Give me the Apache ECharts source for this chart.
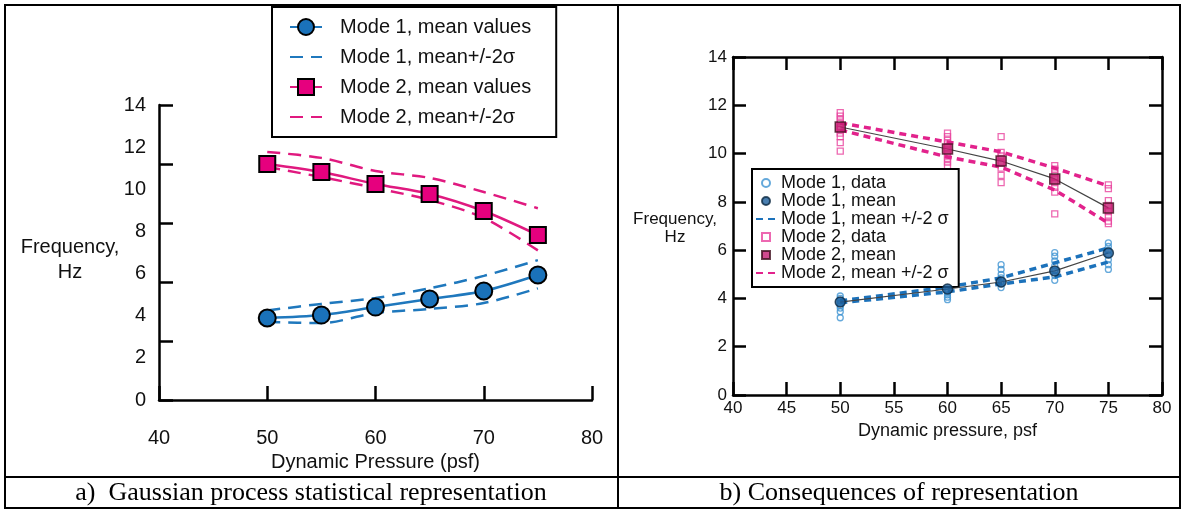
<!DOCTYPE html>
<html>
<head>
<meta charset="utf-8">
<script src="https://cdn.jsdelivr.net/npm/echarts@6/dist/echarts.min.js"></script>
<style>
html, body { margin: 0; padding: 0; background: #fff; }
#chart { width: 1182px; height: 510px; }
</style>
</head>
<body>
<div id="chart"></div>
<script>
// panel a: gaussian process curves
const pressureA = [50, 55, 60, 65, 70, 75]
const mode1MeanA = [3.89, 4.03, 4.41, 4.79, 5.17, 5.93]
const mode1UpperA = [4.25, 4.56, 4.84, 5.3, 5.89, 6.64]
const mode1LowerA = [3.7, 3.65, 4.13, 4.32, 4.6, 5.3]
const mode2MeanA = [11.2, 10.82, 10.25, 9.78, 8.97, 7.83]
const mode2UpperA = [11.77, 11.49, 10.87, 10.54, 9.87, 9.1]
const mode2LowerA = [11.06, 10.58, 10.06, 9.49, 8.64, 7.1]

// panel b: measured data and statistics
const pressureB = [50, 60, 65, 70, 75]
const mode1MeanB = [3.85, 4.39, 4.68, 5.14, 5.88]
const mode1UpperB = [3.9, 4.47, 4.85, 5.47, 6.09]
const mode1LowerB = [3.82, 4.27, 4.6, 4.89, 5.51]
const mode2MeanB = [11.1, 10.19, 9.69, 8.95, 7.75]
const mode2UpperB = [11.27, 10.48, 10.07, 9.4, 8.66]
const mode2LowerB = [10.98, 9.86, 9.44, 8.49, 7.12]
const mode1Samples = [
    [4.1, 4.0, 3.9, 3.8, 3.7, 3.6, 3.45, 3.2],
    [4.95, 4.75, 4.5, 4.35, 4.25, 4.15, 4.05, 3.95],
    [5.4, 5.2, 5.0, 4.85, 4.7, 4.6, 4.45],
    [5.9, 5.75, 5.55, 5.35, 5.15, 4.95, 4.75],
    [6.3, 6.15, 6.0, 5.8, 5.6, 5.4, 5.2]
]
const mode2Samples = [
    [11.7, 11.55, 11.4, 11.25, 11.1, 11.0, 10.85, 10.7, 10.45, 10.1],
    [10.85, 10.7, 10.55, 10.4, 10.25, 10.1, 9.95, 9.8, 9.65, 9.5],
    [10.7, 10.05, 9.9, 9.6, 9.4, 9.1, 8.8],
    [9.5, 9.35, 9.2, 9.0, 8.8, 8.6, 8.4, 7.5],
    [8.7, 8.55, 8.05, 7.85, 7.6, 7.4, 7.2, 7.1]
]

const sans = "'Liberation Sans', Arial, sans-serif"
const serif = "'Liberation Serif', 'Times New Roman', serif"
const ink = '#111'
const blueA = '#1f78bd'
const pinkA = '#e0197f'
const blueB = '#1c72bb'
const pinkB = '#e2228c'
const squareIcon = 'path://M0,0L10,0L10,10L0,10Z'

const zip = (xs, ys) => xs.map((x, i) => [x, ys[i]])
const spread = (xs, groups) => {
    const out = []
    groups.forEach((g, i) => g.forEach(v => out.push([xs[i], v])))
    return out
}

const axisLine = { show: true, onZero: false, lineStyle: { color: '#000', width: 2.5 } }
const tickIn = (len) => ({ show: true, inside: true, length: len, lineStyle: { color: '#000', width: 2.5 } })

const chart = echarts.init(document.getElementById('chart'))
const option = {
    animation: false,
    backgroundColor: '#fff',
    grid: [
        { left: 159, top: 105, width: 433, height: 295 },
        { left: 733, top: 57, width: 429, height: 338 }
    ],
    xAxis: [
        {
            gridIndex: 0, type: 'value', min: 40, max: 80, interval: 10,
            axisLine: axisLine, axisTick: tickIn(14), splitLine: { show: false },
            axisLabel: { margin: 28, fontSize: 20, color: ink, fontFamily: sans, showMinLabel: true, showMaxLabel: true },
            name: 'Dynamic Pressure (psf)', nameLocation: 'middle', nameGap: 52,
            nameTextStyle: { fontSize: 20, color: ink, fontFamily: sans }
        },
        {
            gridIndex: 1, type: 'value', min: 40, max: 80, interval: 5,
            axisLine: axisLine, axisTick: tickIn(13), splitLine: { show: false },
            axisLabel: { margin: 5, fontSize: 17, color: ink, fontFamily: sans, showMinLabel: true, showMaxLabel: true },
            name: 'Dynamic pressure, psf', nameLocation: 'middle', nameGap: 22,
            nameTextStyle: { fontSize: 18, color: ink, fontFamily: sans }
        },
        {
            gridIndex: 1, type: 'value', position: 'top', min: 40, max: 80, interval: 5,
            axisLine: axisLine, axisTick: tickIn(13), splitLine: { show: false },
            axisLabel: { show: false }
        }
    ],
    yAxis: [
        {
            gridIndex: 0, type: 'value', min: 0, max: 14, interval: 2,
            axisLine: axisLine, axisTick: { show: false }, splitLine: { show: false },
            axisLabel: { margin: 13, fontSize: 20, color: ink, fontFamily: sans, showMinLabel: true, showMaxLabel: true }
        },
        {
            // the tick marks of panel a do not sit on the labels
            gridIndex: 0, type: 'value', position: 'left', min: 0, max: 14, interval: 2.8,
            axisLine: { show: false, onZero: false }, axisTick: tickIn(14), splitLine: { show: false },
            axisLabel: { show: false }
        },
        {
            gridIndex: 1, type: 'value', min: 0, max: 14, interval: 2,
            axisLine: axisLine, axisTick: tickIn(13), splitLine: { show: false },
            axisLabel: { margin: 6, fontSize: 17, color: ink, fontFamily: sans, showMinLabel: true, showMaxLabel: true }
        },
        {
            gridIndex: 1, type: 'value', position: 'right', min: 0, max: 14, interval: 2,
            axisLine: axisLine, axisTick: tickIn(13), splitLine: { show: false },
            axisLabel: { show: false }
        }
    ],
    legend: [
        {
            orient: 'vertical', left: 272, top: 7,
            padding: [9, 25, 9, 17], itemGap: 8, itemWidth: 32, itemHeight: 20,
            backgroundColor: '#fff', borderColor: '#000', borderWidth: 2, borderRadius: 0,
            selectedMode: false,
            textStyle: { fontSize: 20, lineHeight: 22, color: ink, fontFamily: sans, padding: [0, 0, 0, 13] },
            data: [
                { name: 'Mode 1, mean values' },
                { name: 'Mode 1, mean+/-2σ', itemStyle: { opacity: 0 } },
                { name: 'Mode 2, mean values' },
                { name: 'Mode 2, mean+/-2σ', itemStyle: { opacity: 0 } }
            ]
        },
        {
            orient: 'vertical', left: 752, top: 169,
            padding: [5, 10, 5, 3], itemGap: 0, itemWidth: 20, itemHeight: 8,
            backgroundColor: '#fff', borderColor: '#000', borderWidth: 2, borderRadius: 0,
            selectedMode: false, symbolKeepAspect: true,
            textStyle: { fontSize: 18, lineHeight: 15.5, color: ink, fontFamily: sans },
            data: [
                { name: 'Mode 1, data' },
                { name: 'Mode 1, mean' },
                { name: 'Mode 1, mean +/-2 σ', itemStyle: { opacity: 0 } },
                { name: 'Mode 2, data', icon: squareIcon },
                { name: 'Mode 2, mean', icon: squareIcon },
                { name: 'Mode 2, mean +/-2 σ', itemStyle: { opacity: 0 } }
            ]
        }
    ],
    series: [
        // panel a
        {
            type: 'line', name: 'Mode 1, mean+/-2σ', xAxisIndex: 0, yAxisIndex: 0, z: 2,
            data: zip(pressureA, mode1UpperA), symbol: 'none', smooth: 0.3,
            lineStyle: { color: blueA, width: 2.5, type: [13, 8] }, itemStyle: { color: blueA }
        },
        {
            type: 'line', name: 'Mode 1, mean+/-2σ', xAxisIndex: 0, yAxisIndex: 0, z: 2,
            data: zip(pressureA, mode1LowerA), symbol: 'none', smooth: 0.3,
            lineStyle: { color: blueA, width: 2.5, type: [13, 8] }, itemStyle: { color: blueA }
        },
        {
            type: 'line', name: 'Mode 2, mean+/-2σ', xAxisIndex: 0, yAxisIndex: 0, z: 2,
            data: zip(pressureA, mode2UpperA), symbol: 'none', smooth: 0.3,
            lineStyle: { color: pinkA, width: 2.5, type: [13, 8] }, itemStyle: { color: pinkA }
        },
        {
            type: 'line', name: 'Mode 2, mean+/-2σ', xAxisIndex: 0, yAxisIndex: 0, z: 2,
            data: zip(pressureA, mode2LowerA), symbol: 'none', smooth: 0.3,
            lineStyle: { color: pinkA, width: 2.5, type: [13, 8] }, itemStyle: { color: pinkA }
        },
        {
            type: 'line', name: 'Mode 1, mean values', xAxisIndex: 0, yAxisIndex: 0, z: 3,
            data: zip(pressureA, mode1MeanA), symbol: 'circle', symbolSize: 17, smooth: 0.3,
            lineStyle: { color: blueA, width: 2.5 },
            itemStyle: { color: '#1a72ba', borderColor: '#000', borderWidth: 2 }
        },
        {
            type: 'line', name: 'Mode 2, mean values', xAxisIndex: 0, yAxisIndex: 0, z: 3,
            data: zip(pressureA, mode2MeanA), symbol: 'rect', symbolSize: 16, smooth: 0.3,
            lineStyle: { color: pinkA, width: 2.5 },
            itemStyle: { color: '#e6007e', borderColor: '#000', borderWidth: 2 }
        },
        // panel b
        {
            type: 'scatter', name: 'Mode 1, data', xAxisIndex: 1, yAxisIndex: 2, z: 2,
            data: spread(pressureB, mode1Samples), symbol: 'circle', symbolSize: 6,
            itemStyle: { color: 'rgba(255,255,255,0)', borderColor: '#3f93d2', borderWidth: 1.3 }
        },
        {
            type: 'scatter', name: 'Mode 2, data', xAxisIndex: 1, yAxisIndex: 2, z: 2,
            data: spread(pressureB, mode2Samples), symbol: 'rect', symbolSize: 6,
            itemStyle: { color: 'rgba(255,255,255,0)', borderColor: '#e8429e', borderWidth: 1.3 }
        },
        {
            type: 'line', name: 'Mode 1, mean +/-2 σ', xAxisIndex: 1, yAxisIndex: 2, z: 3,
            data: zip(pressureB, mode1UpperB), symbol: 'none',
            lineStyle: { color: blueB, width: 3.5, type: [7, 5] }, itemStyle: { color: blueB }
        },
        {
            type: 'line', name: 'Mode 1, mean +/-2 σ', xAxisIndex: 1, yAxisIndex: 2, z: 3,
            data: zip(pressureB, mode1LowerB), symbol: 'none',
            lineStyle: { color: blueB, width: 3.5, type: [7, 5] }, itemStyle: { color: blueB }
        },
        {
            type: 'line', name: 'Mode 2, mean +/-2 σ', xAxisIndex: 1, yAxisIndex: 2, z: 3,
            data: zip(pressureB, mode2UpperB), symbol: 'none',
            lineStyle: { color: pinkB, width: 3.5, type: [7, 5] }, itemStyle: { color: pinkB }
        },
        {
            type: 'line', name: 'Mode 2, mean +/-2 σ', xAxisIndex: 1, yAxisIndex: 2, z: 3,
            data: zip(pressureB, mode2LowerB), symbol: 'none',
            lineStyle: { color: pinkB, width: 3.5, type: [7, 5] }, itemStyle: { color: pinkB }
        },
        {
            type: 'line', name: 'mode 1 mean line', xAxisIndex: 1, yAxisIndex: 2, z: 4,
            data: zip(pressureB, mode1MeanB), symbol: 'none',
            lineStyle: { color: '#444', width: 1.2 }
        },
        {
            type: 'line', name: 'mode 2 mean line', xAxisIndex: 1, yAxisIndex: 2, z: 4,
            data: zip(pressureB, mode2MeanB), symbol: 'none',
            lineStyle: { color: '#444', width: 1.2 }
        },
        {
            type: 'scatter', name: 'Mode 1, mean', xAxisIndex: 1, yAxisIndex: 2, z: 5,
            data: zip(pressureB, mode1MeanB), symbol: 'circle', symbolSize: 10,
            itemStyle: { color: '#1d5f9c', borderColor: '#0c2a44', borderWidth: 1.5 }
        },
        {
            type: 'scatter', name: 'Mode 2, mean', xAxisIndex: 1, yAxisIndex: 2, z: 5,
            data: zip(pressureB, mode2MeanB), symbol: 'rect', symbolSize: 10,
            itemStyle: { color: '#c51b72', borderColor: '#40101f', borderWidth: 1.5 }
        }
    ],
    graphic: [
        // table frame
        { type: 'rect', shape: { x: 5, y: 5, width: 1175, height: 503 }, style: { fill: 'none', stroke: '#000', lineWidth: 2 }, z: 10 },
        { type: 'line', shape: { x1: 618, y1: 5, x2: 618, y2: 508 }, style: { stroke: '#000', lineWidth: 2 }, z: 10 },
        { type: 'line', shape: { x1: 5, y1: 477, x2: 1180, y2: 477 }, style: { stroke: '#000', lineWidth: 2 }, z: 10 },
        // y titles
        {
            type: 'text', x: 70, y: 260,
            style: { text: 'Frequency,\nHz', fontSize: 20, lineHeight: 25, fontFamily: sans, fill: ink, align: 'center', verticalAlign: 'middle' }
        },
        {
            type: 'text', x: 675, y: 228,
            style: { text: 'Frequency,\nHz', fontSize: 17, lineHeight: 18, fontFamily: sans, fill: ink, align: 'center', verticalAlign: 'middle' }
        },
        // captions
        {
            type: 'text', x: 311, y: 493,
            style: { text: 'a)  Gaussian process statistical representation', fontSize: 26, fontFamily: serif, fill: '#000', align: 'center', verticalAlign: 'middle' }
        },
        {
            type: 'text', x: 899, y: 493,
            style: { text: 'b) Consequences of representation', fontSize: 26, fontFamily: serif, fill: '#000', align: 'center', verticalAlign: 'middle' }
        }
    ]
}
chart.setOption(option)
</script>
</body>
</html>
